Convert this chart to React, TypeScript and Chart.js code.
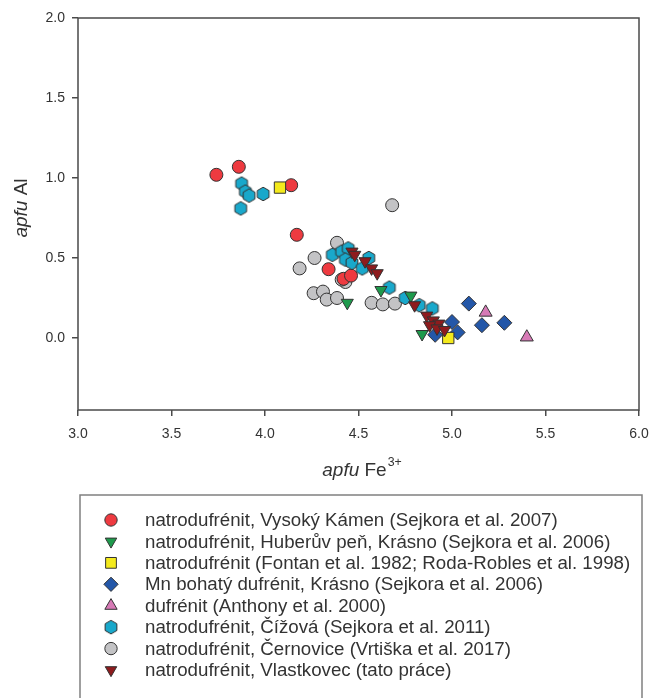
import React, { useEffect, useRef } from 'react';
import { Chart, registerables } from 'chart.js';
import { drawPoint } from 'chart.js/helpers';

Chart.register(...registerables);

const xTicks = [3.0, 3.5, 4.0, 4.5, 5.0, 5.5, 6.0];
const yTicks = [0.0, 0.5, 1.0, 1.5, 2.0];
const xRange = [3.0, 6.0];
const yRange = [-0.45, 2.0];

const seriesNames = [
  'natrodufrénit, Vysoký Kámen (Sejkora et al. 2007)',
  'natrodufrénit, Huberův peň, Krásno (Sejkora et al. 2006)',
  'natrodufrénit (Fontan et al. 1982; Roda-Robles et al. 1998)',
  'Mn bohatý dufrénit, Krásno (Sejkora et al. 2006)',
  'dufrénit (Anthony et al. 2000)',
  'natrodufrénit, Čížová (Sejkora et al. 2011)',
  'natrodufrénit, Černovice (Vrtiška et al. 2017)',
  'natrodufrénit, Vlastkovec (tato práce)',
];

const vysokyKamen = [[3.74, 1.02], [3.86, 1.07], [4.14, 0.955], [4.17, 0.645], [4.34, 0.43], [4.42, 0.37], [4.46, 0.39]];
const huberuvPen = [[4.44, 0.22], [4.62, 0.30], [4.78, 0.265], [4.84, 0.025]];
const fontan = [[4.08, 0.94], [4.98, 0.0]];
const mnDufrenit = [[5.09, 0.215], [5.16, 0.08], [5.28, 0.095], [5.0, 0.10], [5.03, 0.035], [4.91, 0.02]];
const dufrenit = [[5.18, 0.16], [5.40, 0.005]];
const cizova = [[3.875, 0.965], [3.895, 0.915], [3.915, 0.89], [3.99, 0.90], [3.87, 0.81], [4.36, 0.52], [4.41, 0.54], [4.445, 0.56], [4.43, 0.49], [4.465, 0.47], [4.52, 0.435], [4.555, 0.50], [4.665, 0.315], [4.75, 0.25], [4.825, 0.205], [4.895, 0.185]];
const cernovice = [[4.68, 0.83], [4.385, 0.595], [4.265, 0.50], [4.185, 0.435], [4.43, 0.35], [4.41, 0.365], [4.26, 0.28], [4.31, 0.29], [4.33, 0.24], [4.385, 0.25], [4.57, 0.22], [4.63, 0.21], [4.695, 0.215]];
const vlastkovec = [[4.465, 0.54], [4.48, 0.52], [4.535, 0.48], [4.57, 0.435], [4.60, 0.405], [4.80, 0.205], [4.865, 0.14], [4.90, 0.11], [4.93, 0.09], [4.88, 0.08], [4.92, 0.06], [4.96, 0.05]];

const seriesData = [vysokyKamen, huberuvPen, fontan, mnDufrenit, dufrenit, cizova, cernovice, vlastkovec];
const seriesColors = ['#ee3a40', '#1e9a4c', '#f4ea1c', '#2457a8', '#d77ab6', '#19a8cb', '#c3c3c5', '#8e1b1d'];
const seriesStyles = ['circle', 'triangle', 'rect', 'rectRot', 'triangle', 'hexagon', 'circle', 'triangle'];
const seriesRotation = [0, 180, 0, 0, 0, 0, 0, 180];
const seriesRadius = [6.5, 7, 8, 7.5, 7.5, 7, 6.5, 7];
const seriesOrder = [7, 5, 3, 4, 2, 6, 8, 1];

const FONT = '"Liberation Sans", Arial, Helvetica, sans-serif';
const TEXT = '#333333';

function makeHexagon(color: string): HTMLCanvasElement {
  const c = document.createElement('canvas');
  c.width = 16;
  c.height = 16;
  const g = c.getContext('2d')!;
  g.beginPath();
  for (let i = 0; i < 6; i++) {
    const a = (Math.PI / 3) * i - Math.PI / 2;
    const px = 8 + 6.8 * Math.cos(a);
    const py = 8 + 6.8 * Math.sin(a);
    if (i === 0) g.moveTo(px, py);
    else g.lineTo(px, py);
  }
  g.closePath();
  g.fillStyle = color;
  g.fill();
  g.lineWidth = 1;
  g.strokeStyle = '#333';
  g.stroke();
  return c;
}

export default function App() {
  const ref = useRef<HTMLCanvasElement | null>(null);

  useEffect(() => {
    document.body.style.margin = '0';
    const canvas = ref.current!;
    const hex = makeHexagon(seriesColors[5]);
    const styleOf = (i: number) => (seriesStyles[i] === 'hexagon' ? hex : seriesStyles[i]);

    const datasets = seriesData.map((pts, i) => ({
      label: seriesNames[i],
      data: pts.map(([x, y]) => ({ x, y })),
      pointStyle: styleOf(i) as any,
      rotation: seriesRotation[i],
      pointRadius: seriesRadius[i],
      pointBackgroundColor: seriesColors[i],
      pointBorderColor: '#333',
      pointBorderWidth: 1,
      backgroundColor: seriesColors[i],
      borderColor: '#333',
      showLine: false,
      order: seriesOrder[i],
    }));

    const decor = {
      id: 'decor',
      beforeDatasetsDraw(chart: any) {
        const { ctx, chartArea: a } = chart;
        ctx.save();
        ctx.strokeStyle = '#4a4a4a';
        ctx.lineWidth = 1.5;
        ctx.strokeRect(a.left, a.top, a.right - a.left, a.bottom - a.top);
        ctx.restore();
      },
      afterDraw(chart: any) {
        const { ctx, chartArea: a } = chart;
        ctx.save();
        ctx.fillStyle = TEXT;
        ctx.textBaseline = 'middle';
        // x title
        const fs = 19;
        const p1 = 'apfu';
        const p2 = ' Fe';
        const p3 = '3+';
        ctx.font = `italic ${fs}px ${FONT}`;
        const w1 = ctx.measureText(p1).width;
        ctx.font = `${fs}px ${FONT}`;
        const w2 = ctx.measureText(p2).width;
        ctx.font = `${fs * 0.65}px ${FONT}`;
        const w3 = ctx.measureText(p3).width;
        let x0 = (a.left + a.right) / 2 - (w1 + w2 + w3) / 2 + 3;
        const ty = 471;
        ctx.textAlign = 'left';
        ctx.font = `italic ${fs}px ${FONT}`;
        ctx.fillText(p1, x0, ty);
        x0 += w1;
        ctx.font = `${fs}px ${FONT}`;
        ctx.fillText(p2, x0, ty);
        x0 += w2;
        ctx.font = `${fs * 0.65}px ${FONT}`;
        ctx.fillText(p3, x0 + 1, ty - 8);

        // y title
        ctx.save();
        ctx.translate(22, 208);
        ctx.rotate(-Math.PI / 2);
        ctx.font = `italic ${fs}px ${FONT}`;
        const v1 = ctx.measureText('apfu').width;
        ctx.font = `${fs}px ${FONT}`;
        const v2 = ctx.measureText(' Al').width;
        let y0 = -(v1 + v2) / 2;
        ctx.font = `italic ${fs}px ${FONT}`;
        ctx.fillText('apfu', y0, 0);
        y0 += v1;
        ctx.font = `${fs}px ${FONT}`;
        ctx.fillText(' Al', y0, 0);
        ctx.restore();

        // legend box
        ctx.strokeStyle = '#808080';
        ctx.lineWidth = 1.5;
        ctx.beginPath();
        ctx.moveTo(80, 705);
        ctx.lineTo(80, 495);
        ctx.lineTo(642, 495);
        ctx.lineTo(642, 705);
        ctx.stroke();

        const rowY0 = 520;
        const rowH = 21.43;
        seriesNames.forEach((name, i) => {
          const y = rowY0 + i * rowH;
          ctx.fillStyle = seriesColors[i];
          ctx.strokeStyle = '#333';
          ctx.lineWidth = 1;
          drawPoint(ctx, {
            pointStyle: styleOf(i) as any,
            rotation: seriesRotation[i],
            radius: seriesRadius[i] * 0.95,
            borderWidth: 1,
          } as any, 111, y);
          ctx.fillStyle = TEXT;
          ctx.font = `18.7px ${FONT}`;
          ctx.textAlign = 'left';
          ctx.textBaseline = 'middle';
          ctx.fillText(name, 145, y + 1);
        });
        ctx.restore();
      },
    };

    const chart = new Chart(canvas, {
      type: 'scatter',
      data: { datasets: datasets as any },
      options: {
        responsive: false,
        animation: false,
        devicePixelRatio: 1,
        layout: { padding: { top: 18, right: 14, left: 0, bottom: 0 } },
        plugins: { legend: { display: false }, tooltip: { enabled: false } },
        scales: {
          x: {
            type: 'linear',
            min: xRange[0],
            max: xRange[1],
            afterBuildTicks: (s: any) => {
              s.ticks = xTicks.map((v) => ({ value: v }));
            },
            afterFit: (s: any) => {
              s.height = 288;
              s.paddingLeft = 0;
              s.paddingRight = 0;
            },
            ticks: {
              callback: (v: any) => Number(v).toFixed(1),
              font: { family: FONT, size: 14 },
              color: TEXT,
              padding: 10,
              maxRotation: 0,
              autoSkip: false,
            },
            grid: { drawOnChartArea: false, drawTicks: true, tickLength: 6, color: '#4a4a4a', lineWidth: 1.5 },
            border: { display: false },
          },
          y: {
            type: 'linear',
            min: yRange[0],
            max: yRange[1],
            afterBuildTicks: (s: any) => {
              s.ticks = yTicks.map((v) => ({ value: v }));
            },
            afterFit: (s: any) => {
              s.width = 78;
              s.paddingTop = 0;
              s.paddingBottom = 0;
            },
            ticks: {
              callback: (v: any) => Number(v).toFixed(1),
              font: { family: FONT, size: 14 },
              color: TEXT,
              padding: 7,
              autoSkip: false,
            },
            grid: { drawOnChartArea: false, drawTicks: true, tickLength: 6, color: '#4a4a4a', lineWidth: 1.5 },
            border: { display: false },
          },
        },
      },
      plugins: [decor],
    });
    return () => chart.destroy();
  }, []);

  return (
    <div style={{ width: 653, height: 698 }}>
      <canvas ref={ref} width={653} height={698} />
    </div>
  );
}
